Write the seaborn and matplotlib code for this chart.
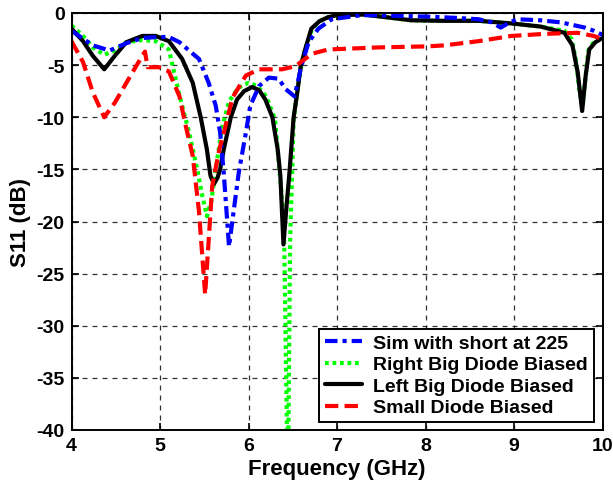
import matplotlib
matplotlib.use("Agg")
import matplotlib.pyplot as plt
import seaborn as sns
import pandas as pd

# ---------------- data ----------------
sim_x = [4.0, 4.24, 4.43, 4.62, 4.8, 4.98, 5.1, 5.22, 5.37, 5.44,
         5.55, 5.63, 5.68, 5.72, 5.78, 5.84, 5.89, 5.97, 6.02, 6.12,
         6.23, 6.34, 6.42, 6.52, 6.60, 6.68, 6.79, 6.94, 7.28,
         7.6, 8.03, 8.3, 8.6, 8.75, 8.85, 8.95, 9.04, 9.3, 9.53,
         9.8, 9.9, 10.0]
sim_y = [-1.7, -3.1, -3.6, -2.9, -2.4, -2.3, -2.3, -2.8, -3.9, -4.4,
         -6.7, -8.9, -11.5, -15.3, -22.4, -18.5, -15.3, -11.5, -8.9, -7.0,
         -6.2, -6.3, -7.3, -8.0, -5.0, -2.8, -1.5, -0.6, -0.2,
         -0.25, -0.35, -0.45, -0.6, -0.9, -1.4, -0.9, -0.6, -0.7, -0.9,
         -1.4, -1.7, -2.1]

right_x = [4.0, 4.13, 4.24, 4.37, 4.49, 4.62, 4.8, 4.95, 5.10,
           5.22, 5.33, 5.42, 5.48, 5.53, 5.58, 5.63, 5.70, 5.78, 5.88,
           6.0, 6.1, 6.2, 6.30, 6.40, 6.445, 6.47, 6.51, 6.55, 6.6,
           6.65, 6.72, 6.8, 6.9, 7.0, 7.3, 7.6, 7.84, 8.2, 8.6,
           8.97, 9.3, 9.57, 9.65, 9.70, 9.74, 9.775, 9.81, 9.84, 9.9,
           9.95, 10.0]
right_y = [-1.2, -2.2, -3.3, -4.0, -3.6, -2.8, -2.6, -2.7, -3.5,
           -7.9, -11.5, -15.0, -17.6, -19.5, -18.0, -15.0, -11.0, -8.5, -7.2,
           -6.7, -7.0, -8.0, -10.2, -20.0, -46.0, -22.0, -10.2, -7.5, -4.8,
           -3.2, -1.5, -0.8, -0.4, -0.2, -0.15, -0.45, -0.7, -0.75, -0.75,
           -1.0, -1.3, -1.7, -2.5, -4.5, -7.5, -9.0, -6.0, -3.6, -2.8,
           -2.4, -2.2]

left_x = [4.0, 4.13, 4.24, 4.37, 4.49, 4.62, 4.8, 4.95, 5.10, 5.25,
          5.37, 5.46, 5.53, 5.57, 5.61, 5.65, 5.68, 5.72, 5.80, 5.87,
          5.95, 6.04, 6.12, 6.19, 6.27, 6.33, 6.36, 6.395, 6.43, 6.46,
          6.51, 6.55, 6.59, 6.64, 6.71, 6.8, 6.9, 7.0, 7.3, 7.6,
          7.84, 8.2, 8.6, 8.97, 9.3, 9.57, 9.66, 9.72, 9.77, 9.81,
          9.85, 9.92, 10.0]
left_y = [-1.5, -2.7, -4.1, -5.4, -4.1, -2.8, -2.2, -2.2, -2.7, -4.4,
          -6.7, -10.0, -13.1, -15.6, -16.4, -15.8, -15.0, -13.1, -10.0, -8.3,
          -7.5, -7.1, -7.4, -8.3, -10.0, -13.1, -15.6, -22.2, -18.5, -15.6,
          -10.0, -7.7, -5.1, -3.5, -1.5, -0.8, -0.4, -0.2, -0.15, -0.45,
          -0.7, -0.75, -0.75, -1.0, -1.3, -1.9, -3.1, -5.7, -9.4, -6.0,
          -3.5, -2.8, -2.4]

small_x = [4.0, 4.13, 4.24, 4.37, 4.49, 4.62, 4.73, 4.83, 4.86, 4.99,
           5.1, 5.22, 5.29, 5.37, 5.44, 5.51, 5.59, 5.67, 5.72, 5.82,
           5.97, 6.12, 6.38, 6.53, 6.64, 6.72, 6.9, 7.47, 8.03, 8.22,
           8.6, 8.97, 9.35, 9.72, 9.9, 10.0]
small_y = [-2.7, -4.7, -7.6, -10.0, -8.6, -6.7, -5.1, -3.7, -5.2, -5.2,
           -5.6, -8.0, -10.8, -13.7, -19.0, -27.0, -16.6, -13.1, -11.5, -8.1,
           -6.0, -5.4, -5.4, -5.1, -4.4, -3.9, -3.5, -3.3, -3.2, -3.1,
           -2.7, -2.2, -2.0, -1.9, -2.2, -2.5]

labels = ["Sim with short at 225", "Right Big Diode Biased",
          "Left Big Diode Biased", "Small Diode Biased"]
x_ticks = [4, 5, 6, 7, 8, 9, 10]
y_ticks = [0, -5, -10, -15, -20, -25, -30, -35, -40]

# ---------------- style ----------------
sns.set_style("white")
plt.rcParams["font.family"] = ["Liberation Sans", "DejaVu Sans"]
plt.rcParams["font.weight"] = "bold"
plt.rcParams["text.color"] = "black"
plt.rcParams["axes.labelcolor"] = "black"
plt.rcParams["xtick.color"] = "black"
plt.rcParams["ytick.color"] = "black"

fig = plt.figure(figsize=(6.13, 4.89), dpi=100)
ax = fig.add_axes([71.5 / 613, 1 - 431 / 489, 531 / 613, 417 / 489])

series = [
    (sim_x, sim_y, labels[0], (0, 0, 1), (3.0, 1.2, 1.0, 1.2), 4),
    (right_x, right_y, labels[1], (0, 1, 0), (0.9, 0.9), 2),
    (left_x, left_y, labels[2], (0, 0, 0), None, 3),
    (small_x, small_y, labels[3], (1, 0, 0), (3.2, 1.5), 5),
]

lw = 3.0
for xs, ys, lab, col, dash, z in series:
    df = pd.DataFrame({"Frequency": xs, "S11": ys})
    sns.lineplot(data=df, x="Frequency", y="S11", ax=ax, color=col,
                 lw=lw, label=lab, estimator=None, sort=False, zorder=z)
    line = ax.lines[-1]
    if dash is not None:
        line.set_dashes(dash)

ax.set_xlim(4, 10)
ax.set_ylim(-40, 0)
ax.set_xticks(x_ticks)
ax.set_yticks(y_ticks)
ax.set_xticklabels([str(t) for t in x_ticks], fontsize=14, fontweight="bold")
ax.set_yticklabels([str(t) for t in y_ticks], fontsize=14, fontweight="bold")
ax.tick_params(direction="in", length=5, width=1.2, top=True, right=True,
               bottom=True, left=True, pad=5, colors="black")
ax.grid(True, color="black", linestyle=(0, (4, 4)), linewidth=0.9, alpha=0.8)
for s in ax.spines.values():
    s.set_color("black")
    s.set_linewidth(1.4)
    s.set_zorder(10)

ax.set_xlabel("Frequency (GHz)", fontsize=16, fontweight="bold", labelpad=3,
              color="black")
ax.set_ylabel("S11 (dB)", fontsize=16, fontweight="bold", labelpad=4,
              color="black")

leg = ax.legend(loc="lower right", bbox_to_anchor=(0.984, 0.0185),
                borderaxespad=0, fancybox=False, framealpha=1,
                edgecolor="black", handlelength=1.9,
                handletextpad=0.6, labelspacing=0.2, borderpad=0.3,
                prop={"weight": "bold", "size": 14})
leg.get_frame().set_linewidth(1.4)
leg.set_zorder(20)
for t in leg.get_texts():
    t.set_color("black")

fig.savefig("out.png", dpi=100)
